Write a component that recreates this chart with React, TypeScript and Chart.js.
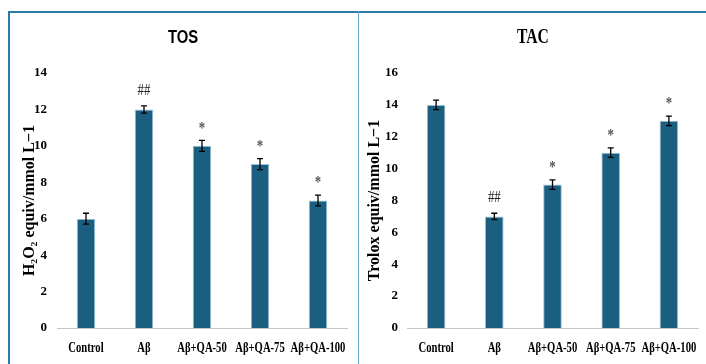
import React, { useEffect, useRef } from "react";
import { Chart, registerables } from "chart.js";

Chart.register(...registerables);

const categories = ["Control", "Aβ", "Aβ+QA-50", "Aβ+QA-75", "Aβ+QA-100"];

const tosValues = [6, 12, 10, 9, 7];
const tosErrors = [0.3, 0.2, 0.3, 0.3, 0.3];
const tosMarks = ["", "##", "*", "*", "*"];
const tosMax = 14;

const tacValues = [14, 7, 9, 11, 13];
const tacErrors = [0.3, 0.2, 0.3, 0.3, 0.3];
const tacMarks = ["", "##", "*", "*", "*"];
const tacMax = 16;

const SERIF = "'Liberation Serif', 'Times New Roman', serif";
const NARROW = "'Liberation Sans Narrow', 'Arial Narrow', 'Liberation Sans', Arial, sans-serif";
const BAR = "#1a5e80";

type PanelSpec = {
  title: string;
  titleFont: string;
  yTitle: string;
  values: number[];
  errors: number[];
  marks: string[];
  max: number;
  padLeft: number;
  padRight: number;
  yTickPad: number;
};

function makeChart(canvas: HTMLCanvasElement, spec: PanelSpec) {
  const overlay = {
    id: "overlay",
    afterDatasetsDraw(chart: any) {
      const ctx = chart.ctx;
      const meta = chart.getDatasetMeta(0);
      const y = chart.scales.y;
      ctx.save();
      ctx.strokeStyle = "#000";
      ctx.lineWidth = 1.3;
      meta.data.forEach((bar: any, i: number) => {
        const v = spec.values[i];
        const e = spec.errors[i];
        const x = bar.x;
        const yt = y.getPixelForValue(v + e);
        const yb = y.getPixelForValue(v - e);
        ctx.beginPath();
        ctx.moveTo(x, yt);
        ctx.lineTo(x, yb);
        ctx.moveTo(x - 3, yt);
        ctx.lineTo(x + 3, yt);
        ctx.moveTo(x - 3, yb);
        ctx.lineTo(x + 3, yb);
        ctx.stroke();
        const m = spec.marks[i];
        if (m) {
          ctx.save();
          ctx.translate(x, yt - 15);
          ctx.scale(0.8, 1);
          ctx.textAlign = "center";
          ctx.textBaseline = "middle";
          if (m === "*") {
            ctx.fillStyle = "#555";
            ctx.font = `bold 16px ${SERIF}`;
            ctx.fillText(m, 0, 3);
          } else {
            ctx.fillStyle = "#222";
            ctx.font = `16px ${SERIF}`;
            ctx.fillText(m, 0, 0);
          }
          ctx.restore();
        }
      });
      ctx.restore();
    },
    afterDraw(chart: any) {
      const ctx = chart.ctx;
      ctx.save();
      ctx.translate(chart.width / 2, 25);
      ctx.scale(0.78, 1);
      ctx.fillStyle = "#000";
      ctx.textAlign = "center";
      ctx.textBaseline = "middle";
      ctx.font = spec.titleFont;
      ctx.fillText(spec.title, 0, 0);
      ctx.restore();

      // category labels, horizontally condensed like the reference
      const xs = chart.scales.x;
      const labels = xs.getLabels();
      const yy = chart.chartArea.bottom + 20;
      ctx.save();
      ctx.fillStyle = "#000";
      ctx.font = `bold 14px ${SERIF}`;
      ctx.textAlign = "center";
      ctx.textBaseline = "middle";
      labels.forEach((lab: string, i: number) => {
        ctx.save();
        ctx.translate(xs.getPixelForTick(i), yy);
        ctx.scale(0.76, 1);
        ctx.fillText(lab, 0, 0);
        ctx.restore();
      });
      ctx.restore();
    },
  };

  return new Chart(canvas, {
    type: "bar",
    data: {
      labels: categories,
      datasets: [
        {
          data: spec.values,
          backgroundColor: BAR,
          borderColor: "#9cc4d8",
          borderWidth: 1,
          categoryPercentage: 1,
          barPercentage: 0.32,
        },
      ],
    },
    options: {
      responsive: false,
      animation: false,
      layout: { padding: { top: 60, left: spec.padLeft, right: spec.padRight, bottom: 0 } },
      plugins: {
        legend: { display: false },
        tooltip: { enabled: false },
        title: { display: false },
      },
      scales: {
        x: {
          grid: { display: false, drawTicks: false },
          border: { display: true, color: "#c4c4c4", width: 1 },
          ticks: { display: false },
          afterFit(scale: any) {
            scale.height = 36;
          },
        },
        y: {
          min: 0,
          max: spec.max,
          grid: { display: false, drawTicks: false },
          border: { display: false },
          ticks: {
            stepSize: 2,
            color: "#000",
            font: { family: SERIF, size: 13, weight: "bold" },
            padding: spec.yTickPad,
          },
          title: {
            display: true,
            text: spec.yTitle,
            color: "#000",
            font: { family: SERIF, size: 16, weight: "bold" },
            padding: { top: 4, bottom: 0 },
          },
          afterFit(scale: any) {
            scale.width = 47 - spec.padLeft;
          },
        },
      },
    },
    plugins: [overlay],
  });
}

function Panel({ spec, left }: { spec: PanelSpec; left: number }) {
  const ref = useRef<HTMLCanvasElement | null>(null);
  useEffect(() => {
    if (!ref.current) return;
    const c = makeChart(ref.current, spec);
    return () => c.destroy();
  }, []);
  return (
    <canvas
      ref={ref}
      width={346}
      height={351}
      style={{ position: "absolute", left, top: 13, width: 346, height: 351 }}
    />
  );
}

export default function App() {
  const tos: PanelSpec = {
    title: "TOS",
    titleFont: `bold 19px ${NARROW}`,
    yTitle: "H₂O₂ equiv/mmol L−1",
    values: tosValues,
    errors: tosErrors,
    marks: tosMarks,
    max: tosMax,
    padLeft: 6,
    padRight: 9,
    yTickPad: 10,
  };
  const tac: PanelSpec = {
    title: "TAC",
    titleFont: `bold 20px ${SERIF}`,
    yTitle: "Trolox equiv/mmol L−1",
    values: tacValues,
    errors: tacErrors,
    marks: tacMarks,
    max: tacMax,
    padLeft: 1,
    padRight: 8,
    yTickPad: 9,
  };
  return (
    <div style={{ position: "absolute", left: 0, top: 0, width: 706, height: 364, background: "#fff", overflow: "hidden" }}>
      <div style={{ position: "absolute", left: 8, top: 11, width: 698, height: 2, background: "#2a7dab" }} />
      <div style={{ position: "absolute", left: 8, top: 11, width: 2, height: 353, background: "#2a7dab" }} />
      <div style={{ position: "absolute", left: 358, top: 11, width: 1, height: 353, background: "#6aa9cf" }} />
      <Panel spec={tos} left={10} />
      <Panel spec={tac} left={360} />
    </div>
  );
}
